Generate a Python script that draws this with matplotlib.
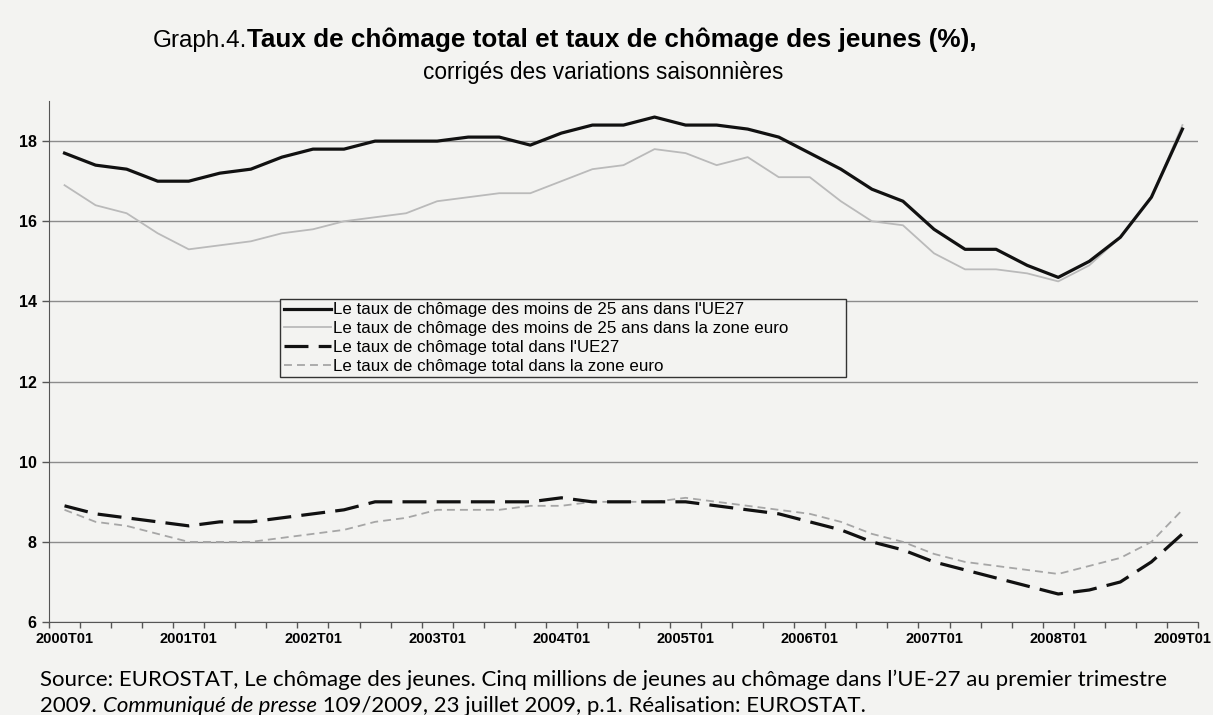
import matplotlib
matplotlib.use("Agg")
import matplotlib.pyplot as plt

plt.rcParams["font.family"] = ["Liberation Sans", "DejaVu Sans"]

# trimestres 2000T01 .. 2009T01 (37 valeurs)
etiquettes = ["2000T01", "2001T01", "2002T01", "2003T01", "2004T01",
              "2005T01", "2006T01", "2007T01", "2008T01", "2009T01"]

jeunes_ue27 = [17.7, 17.4, 17.3, 17.0, 17.0, 17.2, 17.3, 17.6, 17.8, 17.8,
               18.0, 18.0, 18.0, 18.1, 18.1, 17.9, 18.2, 18.4, 18.4, 18.6,
               18.4, 18.4, 18.3, 18.1, 17.7, 17.3, 16.8, 16.5, 15.8, 15.3,
               15.3, 14.9, 14.6, 15.0, 15.6, 16.6, 18.3]
jeunes_ze = [16.9, 16.4, 16.2, 15.7, 15.3, 15.4, 15.5, 15.7, 15.8, 16.0,
             16.1, 16.2, 16.5, 16.6, 16.7, 16.7, 17.0, 17.3, 17.4, 17.8,
             17.7, 17.4, 17.6, 17.1, 17.1, 16.5, 16.0, 15.9, 15.2, 14.8,
             14.8, 14.7, 14.5, 14.9, 15.6, 16.6, 18.4]
total_ue27 = [8.9, 8.7, 8.6, 8.5, 8.4, 8.5, 8.5, 8.6, 8.7, 8.8,
              9.0, 9.0, 9.0, 9.0, 9.0, 9.0, 9.1, 9.0, 9.0, 9.0,
              9.0, 8.9, 8.8, 8.7, 8.5, 8.3, 8.0, 7.8, 7.5, 7.3,
              7.1, 6.9, 6.7, 6.8, 7.0, 7.5, 8.2]
total_ze = [8.8, 8.5, 8.4, 8.2, 8.0, 8.0, 8.0, 8.1, 8.2, 8.3,
            8.5, 8.6, 8.8, 8.8, 8.8, 8.9, 8.9, 9.0, 9.0, 9.0,
            9.1, 9.0, 8.9, 8.8, 8.7, 8.5, 8.2, 8.0, 7.7, 7.5,
            7.4, 7.3, 7.2, 7.4, 7.6, 8.0, 8.8]

libelles = ["Le taux de chômage des moins de 25 ans dans l'UE27",
            "Le taux de chômage des moins de 25 ans dans la zone euro",
            "Le taux de chômage total dans l'UE27",
            "Le taux de chômage total dans la zone euro"]

fond = "#f3f3f1"
fig = plt.figure(figsize=(12.13, 7.15), dpi=100, facecolor=fond)
ax = fig.add_axes([0.0404, 0.130, 0.9472, 0.7287])
ax.set_facecolor(fond)

x = list(range(len(jeunes_ue27)))
ax.plot(x, jeunes_ue27, color="#111111", lw=2.3, label=libelles[0], zorder=4)
ax.plot(x, jeunes_ze, color="#bababa", lw=1.3, label=libelles[1], zorder=3)
ax.plot(x, total_ue27, color="#111111", lw=2.3, dashes=(7.5, 3.2), label=libelles[2], zorder=4)
ax.plot(x, total_ze, color="#a6a6a6", lw=1.3, dashes=(4.4, 2.8), label=libelles[3], zorder=3)

ax.set_xlim(-0.5, len(x) - 0.5)
ax.set_ylim(6, 19)

# grille horizontale
ax.set_yticks([6, 8, 10, 12, 14, 16, 18])
ax.yaxis.grid(True, color="#8c8c8c", lw=1.0)
ax.set_axisbelow(True)
for lab in ax.get_yticklabels():
    lab.set_fontweight("bold")
ax.tick_params(axis="y", length=5, width=1, color="#555555", labelsize=11.5, pad=4)

# axe des x : étiquettes au centre des catégories, graduations entre les catégories
ax.set_xticks(x[::4])
ax.set_xticklabels(etiquettes, fontweight="bold")
ax.set_xticks([i - 0.5 for i in range(len(x) + 1)], minor=True)
ax.tick_params(axis="x", which="major", length=0, labelsize=10.5, pad=7)
ax.tick_params(axis="x", which="minor", length=4, width=1, color="#555555")

for s in ["top", "right"]:
    ax.spines[s].set_visible(False)
ax.spines["left"].set_color("#555555")
ax.spines["bottom"].set_color("#555555")

leg = ax.legend(loc="upper left", bbox_to_anchor=(0.201, 0.4615, 0.4926, 0.159),
                mode="expand", borderaxespad=0, fontsize=12.2, handlelength=2.8,
                handletextpad=0.12, labelspacing=0.22, fancybox=False,
                edgecolor="#333333", facecolor=fond, framealpha=1, borderpad=0.22)
leg.get_frame().set_linewidth(1.0)

# titre en deux morceaux
t1 = fig.text(0.126, 0.934, "Graph.4.", fontsize=17.5, va="baseline")
fig.canvas.draw()
ax.annotate("Taux de chômage total et taux de chômage des jeunes (%),",
            xycoords=t1, xy=(1, 0), va="bottom",
            fontsize=18.8, fontweight="bold", annotation_clip=False)
fig.text(0.497, 0.889, "corrigés des variations saisonnières",
         fontsize=16.3, ha="center", va="baseline")

# source
fig.text(0.033, 0.0406, "Source: EUROSTAT, Le chômage des jeunes. Cinq millions de jeunes au chômage "
         "dans l\u2019UE-27 au premier trimestre", family="Lato", fontsize=16, va="baseline")
s1 = fig.text(0.033, 0.0042, "2009. ", family="Lato", fontsize=16, va="baseline")
s2 = ax.annotate("Communiqué de presse", xycoords=s1, xy=(1, 0), va="bottom",
                 family="Lato", fontsize=16, style="italic", annotation_clip=False)
ax.annotate(" 109/2009, 23 juillet 2009, p.1. Réalisation: EUROSTAT.", xycoords=s2,
            xy=(1, 0), va="bottom", family="Lato", fontsize=16, annotation_clip=False)

fig.savefig("out.png", dpi=100, facecolor=fond)
